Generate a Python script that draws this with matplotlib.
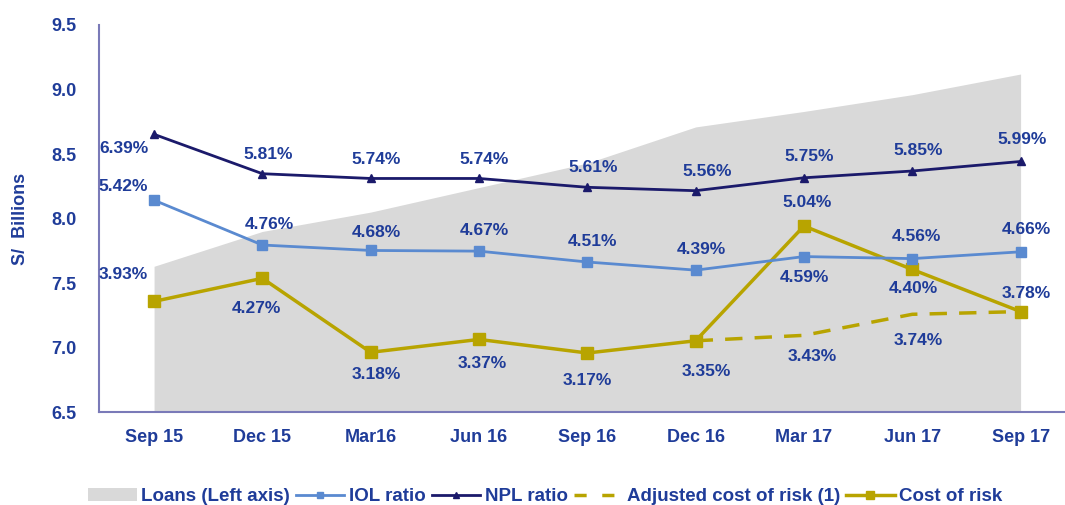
import numpy as np
import matplotlib
matplotlib.use("Agg")
import matplotlib.pyplot as plt
from matplotlib.patches import Patch
from matplotlib.lines import Line2D

# data
quarters = ["Sep 15", "Dec 15", "Mar16", "Jun 16", "Sep 16", "Dec 16", "Mar 17", "Jun 17", "Sep 17"]
loans = [7.63, 7.90, 8.05, 8.24, 8.43, 8.71, 8.83, 8.96, 9.12]
iol_ratio = [5.42, 4.76, 4.68, 4.67, 4.51, 4.39, 4.59, 4.56, 4.66]
npl_ratio = [6.39, 5.81, 5.74, 5.74, 5.61, 5.56, 5.75, 5.85, 5.99]
cost_of_risk = [3.93, 4.27, 3.18, 3.37, 3.17, 3.35, 5.04, 4.40, 3.78]
adj_cost_of_risk = [np.nan, np.nan, np.nan, np.nan, np.nan, 3.35, 3.43, 3.74, 3.78]

# label offsets in points (dx, dy)
npl_off = [(-22, -10), (4, 14), (4, 14), (4, 14), (4, 14), (8, 14), (4, 15), (4, 15), (1, 16)]
iol_off = [(-22, 10), (5, 15), (4, 13), (4, 15), (4, 15), (4, 15), (0, -15), (3, 16), (4, 16)]
cor_off = [(-22, 19), (-4, -22), (4, -16), (2, -17), (0, -20), (8, -22), (2, 17), (1, -14), (4, 13)]
adj_off = [None] * 6 + [(6, -15), (4, -19), None]

TXT = "#1f3c99"
NAVY = "#1b1a6b"
STEEL = "#5a8ad0"
GOLD = "#b8a400"
GRAY = "#d9d9d9"
SPINE = "#7a7ab8"

plt.rcParams["font.family"] = ["Liberation Sans", "DejaVu Sans"]

fig = plt.figure(figsize=(10.65, 5.05), dpi=100)
ax = fig.add_axes([0.093, 0.184, 0.907, 0.7665])
x = np.arange(len(quarters))

ax.fill_between(x, 6.5, loans, color=GRAY, lw=0, zorder=1)
ax.set_ylim(6.5, 9.5)
ax.set_yticks(np.arange(6.5, 9.51, 0.5))
ax.set_yticklabels([f"{v:.1f}" for v in np.arange(6.5, 9.51, 0.5)])
ax.set_xlim(-0.508, 8.41)
ax.set_xticks(x)
ax.set_xticklabels(quarters)
ax.tick_params(length=0, labelsize=13, labelcolor=TXT)
ax.tick_params(axis="y", pad=16)
ax.tick_params(axis="x", pad=12)
for lab in ax.get_xticklabels() + ax.get_yticklabels():
    lab.set_fontweight("bold")
for s in ["top", "right"]:
    ax.spines[s].set_visible(False)
for s in ["left", "bottom"]:
    ax.spines[s].set_color(SPINE)
    ax.spines[s].set_linewidth(1.5)
ax.set_ylabel("S/  Billions", fontsize=13, fontweight="bold", color=TXT, labelpad=16)

ax2 = ax.twinx()
ax2.set_ylim(2.3, 8.0)
ax2.axis("off")
ax2.plot(x, adj_cost_of_risk, color=GOLD, lw=2.5, ls=(0, (5, 3.5)), zorder=3)
ax2.plot(x, cost_of_risk, color=GOLD, lw=2.5, marker="s", ms=8, zorder=4)
ax2.plot(x, iol_ratio, color=STEEL, lw=2, marker="s", ms=7, zorder=4)
ax2.plot(x, npl_ratio, color=NAVY, lw=2, marker="^", ms=6, zorder=5)

def put_labels(vals, offs):
    for xi, v, o in zip(x, vals, offs):
        if o is None or np.isnan(v):
            continue
        ax2.annotate(f"{v:.2f}%", (xi, v), xytext=o, textcoords="offset points",
                     ha="center", va="center", fontsize=12.5, fontweight="bold",
                     color=TXT, zorder=6)

put_labels(npl_ratio, npl_off)
put_labels(iol_ratio, iol_off)
put_labels(cost_of_risk, cor_off)
put_labels(adj_cost_of_risk, adj_off)

handles = [
    Patch(facecolor=GRAY, edgecolor="none"),
    Line2D([], [], color=STEEL, lw=2, marker="s", ms=5),
    Line2D([], [], color=NAVY, lw=2, marker="^", ms=5),
    Line2D([], [], color=GOLD, lw=2.5, ls=(0, (3.5, 4.5))),
    Line2D([], [], color=GOLD, lw=2.5, marker="s", ms=6),
]
names = ["Loans (Left axis)", "IOL ratio", "NPL ratio", "Adjusted cost of risk (1)", "Cost of risk"]
fig.legend(handles, names, loc="center", bbox_to_anchor=(0.512, 0.016), ncol=5, frameon=False,
           handlelength=2.6, handletextpad=0.25, columnspacing=0.3,
           prop={"weight": "bold", "size": 13.5}, labelcolor=TXT)

fig.savefig("out.png", dpi=100)
